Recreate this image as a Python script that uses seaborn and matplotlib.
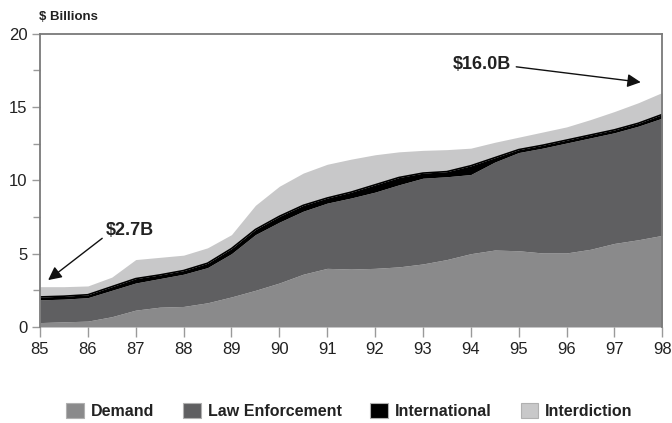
import numpy as np
import pandas as pd
import matplotlib
matplotlib.use("Agg")
import matplotlib.pyplot as plt
from matplotlib.patches import Patch
import seaborn as sns

# values, half-year steps
years = [85, 85.5, 86, 86.5, 87, 87.5, 88, 88.5, 89, 89.5, 90, 90.5, 91, 91.5,
         92, 92.5, 93, 93.5, 94, 94.5, 95, 95.5, 96, 96.5, 97, 97.5, 98]
demand = [0.3, 0.35, 0.4, 0.7, 1.15, 1.35, 1.4, 1.65, 2.05, 2.5, 3.0, 3.6, 4.0, 3.95,
          4.0, 4.1, 4.3, 4.6, 5.0, 5.25, 5.2, 5.05, 5.05, 5.3, 5.7, 5.95, 6.25]
law_enforcement = [1.55, 1.55, 1.6, 1.8, 1.85, 1.95, 2.2, 2.4, 2.95, 3.8, 4.15, 4.3, 4.45, 4.85,
                   5.2, 5.6, 5.85, 5.65, 5.4, 6.0, 6.7, 7.15, 7.5, 7.6, 7.55, 7.75, 8.0]
international = [0.2, 0.2, 0.2, 0.25, 0.3, 0.25, 0.25, 0.3, 0.35, 0.35, 0.4, 0.4, 0.35, 0.4,
                 0.5, 0.5, 0.35, 0.35, 0.6, 0.3, 0.2, 0.2, 0.2, 0.2, 0.2, 0.2, 0.25]
interdiction = [0.7, 0.65, 0.6, 0.65, 1.3, 1.2, 1.05, 1.05, 0.95, 1.65, 2.05, 2.2, 2.3, 2.25,
                2.05, 1.75, 1.55, 1.5, 1.2, 1.05, 0.85, 0.9, 0.9, 1.05, 1.25, 1.4, 1.5]

series_names = ["Demand", "Law Enforcement", "International", "Interdiction"]
series_colors = ["#8a8a8b", "#5f5f61", "#000000", "#c8c8c9"]
year_ticks = list(range(85, 99))

df = pd.DataFrame({"year": years, "Demand": demand, "Law Enforcement": law_enforcement,
                   "International": international, "Interdiction": interdiction})

sns.set_theme(style="white")
plt.rcParams["font.family"] = ["Liberation Sans", "DejaVu Sans"]

fig = plt.figure(figsize=(6.72, 4.23), dpi=100)
ax = fig.add_axes([0.0595, 0.227, 0.926, 0.693])

# stacked areas
base = np.zeros(len(df))
for name, col in zip(series_names, series_colors):
    top = base + df[name].values
    ax.fill_between(df["year"], base, top, color=col, linewidth=0)
    base = top
# thin dark rim on top of the international band, as in the print
sns.lineplot(x=df["year"], y=np.array(demand) + np.array(law_enforcement) + np.array(international),
             color="#000000", linewidth=1.2, ax=ax)

ax.set_xlim(85, 98)
ax.set_ylim(0, 20)
ax.set_xticks(year_ticks)
ax.set_xticklabels([str(y) for y in year_ticks])
ax.set_yticks([0, 5, 10, 15, 20])
ax.set_yticks([2.5, 7.5, 12.5, 17.5], minor=True)
ax.set_xlabel("")
ax.set_ylabel("")

for side in ["left", "top", "right", "bottom"]:
    ax.spines[side].set_color("#7a7a7a")
    ax.spines[side].set_linewidth(1.3)
ax.spines["bottom"].set_visible(False)

ax.tick_params(axis="both", which="both", direction="out", color="#9a9a9a",
               labelsize=12, labelcolor="#222222")
ax.tick_params(axis="y", which="major", length=6, width=1, left=True, pad=3)
ax.tick_params(axis="y", which="minor", length=5, width=1, left=True)
ax.tick_params(axis="x", which="major", length=7, width=1, bottom=True, pad=4)

fig.text(0.058, 0.952, "$ Billions", fontsize=9.5, fontweight="bold", color="#222222")

ax.text(86.87, 6.6, "$2.7B", fontsize=13, fontweight="bold", color="#222222",
        ha="center", va="center")
ax.annotate("", xy=(85.17, 3.2), xytext=(86.3, 6.05),
            arrowprops=dict(arrowstyle="-|>", color="#111111", lw=1,
                            mutation_scale=20, shrinkA=0, shrinkB=0))
ax.text(94.23, 17.9, "$16.0B", fontsize=13, fontweight="bold", color="#222222",
        ha="center", va="center")
ax.annotate("", xy=(97.55, 16.7), xytext=(94.95, 17.75),
            arrowprops=dict(arrowstyle="-|>", color="#111111", lw=1,
                            mutation_scale=20, shrinkA=0, shrinkB=0))

handles = [Patch(facecolor=c, edgecolor="#b0b0b0", linewidth=0.8) for c in series_colors]
fig.legend(handles, series_names, loc="center", bbox_to_anchor=(0.52, 0.028), ncol=4,
           frameon=False, prop={"size": 11.5, "weight": "bold"}, handlelength=1.1,
           handleheight=1.1, handletextpad=0.45, columnspacing=1.8, labelcolor="#222222")

fig.savefig("out.png", dpi=100)
